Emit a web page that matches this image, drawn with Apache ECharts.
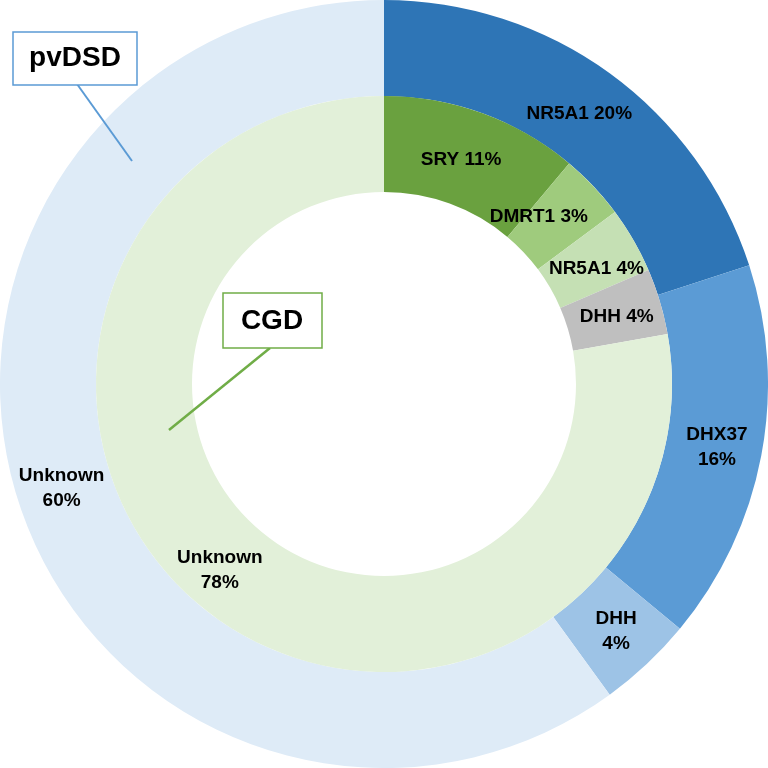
<!DOCTYPE html>
<html>
<head>
<meta charset="utf-8">
<script src="https://cdn.jsdelivr.net/npm/echarts@6/dist/echarts.min.js"></script>
<style>html,body{margin:0;padding:0;background:#fff;}#c{width:768px;height:768px;}</style>
</head>
<body>
<div id="c"></div>
<script>
// Outer ring: pvDSD
const outerNames = ['NR5A1', 'DHX37', 'DHH', 'Unknown'];
const outerValues = [5, 4, 1, 15];
const outerPct = ['20%', '16%', '4%', '60%'];
const outerSep = [' ', '\n', '\n', '\n'];
const outerColors = ['#2E75B6', '#5B9BD5', '#9DC3E6', '#DEEBF7'];

// Inner ring: CGD
const innerNames = ['SRY', 'DMRT1', 'NR5A1', 'DHH', 'Unknown'];
const innerValues = [3, 1, 1, 1, 21];
const innerPct = ['11%', '3%', '4%', '4%', '78%'];
const innerSep = [' ', ' ', ' ', ' ', '\n'];
const innerColors = ['#6AA13F', '#9FCB7D', '#C5E0B4', '#BFBFBF', '#E2F0D9'];
const innerLabelOffsets = [[-6, 4], [-22, 0], [2, 6], [0, 2], [-8, 0]];
const outerLabelOffsets = [[-4, 4], [0, 0], [0, 0], [0, 0]];

const chart = echarts.init(document.getElementById('c'), null, {renderer: 'canvas'});

function mk(names, values, pct, sep, colors, offs) {
  return names.map((n, i) => ({
    name: n, value: values[i],
    itemStyle: {color: colors[i]},
    label: {formatter: n + sep[i] + pct[i], offset: offs[i]}
  }));
}

const labelStyle = {
  show: true, position: 'inside', color: '#000',
  fontFamily: 'Liberation Sans, Arial, sans-serif',
  fontWeight: 'bold', fontSize: 19, lineHeight: 25
};

chart.setOption({
  animation: false,
  series: [
    {
      type: 'pie', center: [384, 384], radius: [288, 384],
      startAngle: 90, clockwise: true, silent: true,
      itemStyle: {borderWidth: 0},
      label: labelStyle, labelLine: {show: false},
      emphasis: {disabled: true},
      data: mk(outerNames, outerValues, outerPct, outerSep, outerColors, outerLabelOffsets)
    },
    {
      type: 'pie', center: [384, 384], radius: [192, 288],
      startAngle: 90, clockwise: true, silent: true,
      itemStyle: {borderWidth: 0},
      label: labelStyle, labelLine: {show: false},
      emphasis: {disabled: true},
      data: mk(innerNames, innerValues, innerPct, innerSep, innerColors, innerLabelOffsets)
    }
  ],
  graphic: [
    {type: 'line', shape: {x1: 77, y1: 84, x2: 132, y2: 161}, style: {stroke: '#5B9BD5', lineWidth: 2}, z: 10},
    {type: 'rect', shape: {x: 13, y: 32, width: 124, height: 53}, style: {fill: '#fff', stroke: '#5B9BD5', lineWidth: 1.5}, z: 11},
    {type: 'text', x: 75, y: 58, style: {text: 'pvDSD', fill: '#000', font: 'bold 28px "Liberation Sans", Arial, sans-serif', align: 'center', verticalAlign: 'middle'}, z: 12},
    {type: 'line', shape: {x1: 270, y1: 348, x2: 169, y2: 430}, style: {stroke: '#70AD47', lineWidth: 2.5}, z: 10},
    {type: 'rect', shape: {x: 223, y: 293, width: 99, height: 55}, style: {fill: '#fff', stroke: '#70AD47', lineWidth: 1.5}, z: 11},
    {type: 'text', x: 272, y: 321, style: {text: 'CGD', fill: '#000', font: 'bold 28px "Liberation Sans", Arial, sans-serif', align: 'center', verticalAlign: 'middle'}, z: 12}
  ]
});
</script>
</body>
</html>
